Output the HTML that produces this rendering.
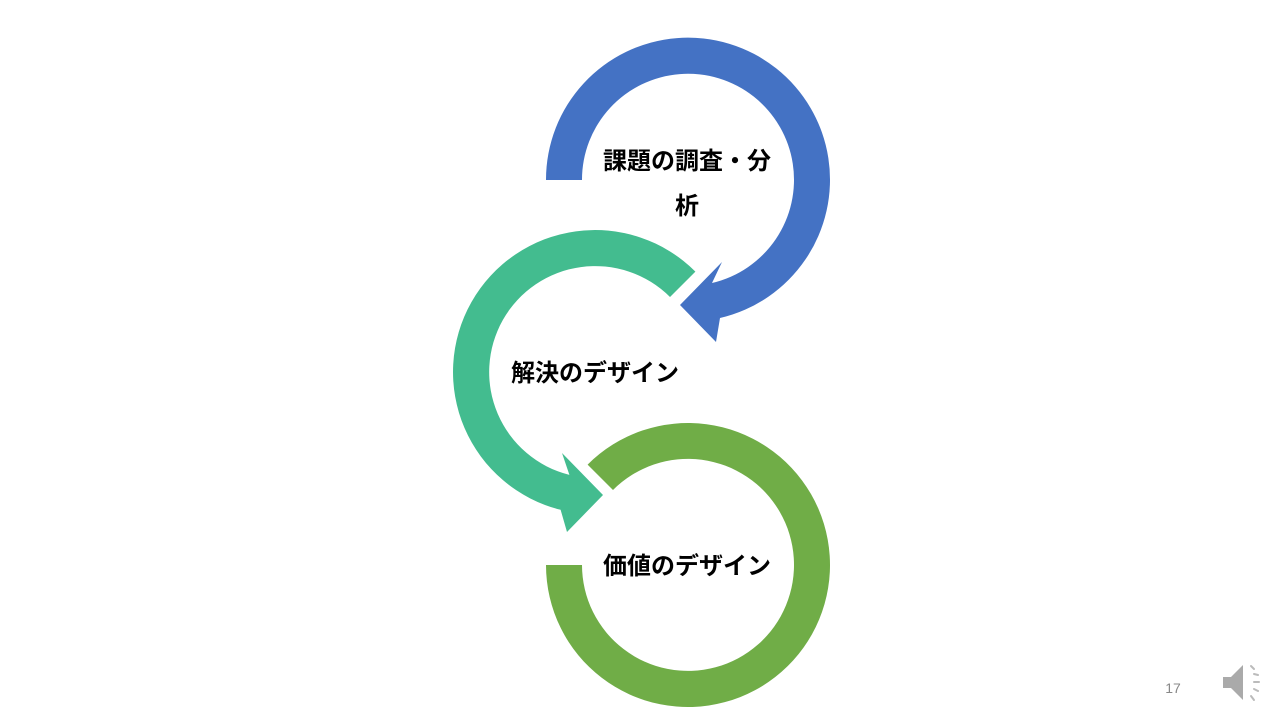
<!DOCTYPE html>
<html><head><meta charset="utf-8">
<style>
html,body{margin:0;padding:0;background:#fff;}
body{width:1280px;height:720px;overflow:hidden;position:relative;}
svg{position:absolute;left:0;top:0;}
text{font-family:"Liberation Sans","Noto Sans CJK JP",sans-serif;}
</style></head>
<body>
<svg width="1280" height="720" viewBox="0 0 1280 720">
<path fill="#4472C4" d="M546,180 A142,142 0 1 1 720,318 L716,342 L680,305 L722,262 L712,283 A106,106 0 1 0 582,180 Z"/>
<path fill="#43BC8F" d="M695.4,271.6 A142,142 0 1 0 560.6,509.8 L567,532 L603,495 L562,453 L569.4,474.9 A106,106 0 1 1 670,297 Z"/>
<path fill="#70AD47" d="M546,565 A142,142 0 1 0 587.6,464.6 L613,490 A106,106 0 1 1 582,565 Z"/>
<g font-size="24" font-weight="bold" fill="#000" text-anchor="middle">
<text x="687" y="169">課題の調査・分</text>
<text x="687" y="214">析</text>
<text x="595" y="381">解決のデザイン</text>
<text x="687" y="574">価値のデザイン</text>
</g>
<text x="1173" y="693" font-size="14" fill="#888" text-anchor="middle">17</text>
<g>
<polygon points="1223,677 1231,677 1243,665 1243,700 1231,688 1223,688" fill="#aaa"/>
<g stroke="#bbb" stroke-width="2" stroke-linecap="round">
<line x1="1251" y1="666" x2="1254" y2="669"/>
<line x1="1254" y1="674" x2="1258" y2="675"/>
<line x1="1254" y1="682" x2="1259" y2="682"/>
<line x1="1254" y1="689" x2="1258" y2="691"/>
<line x1="1251" y1="696" x2="1254" y2="700"/>
</g>
</g>
</svg>
</body></html>
